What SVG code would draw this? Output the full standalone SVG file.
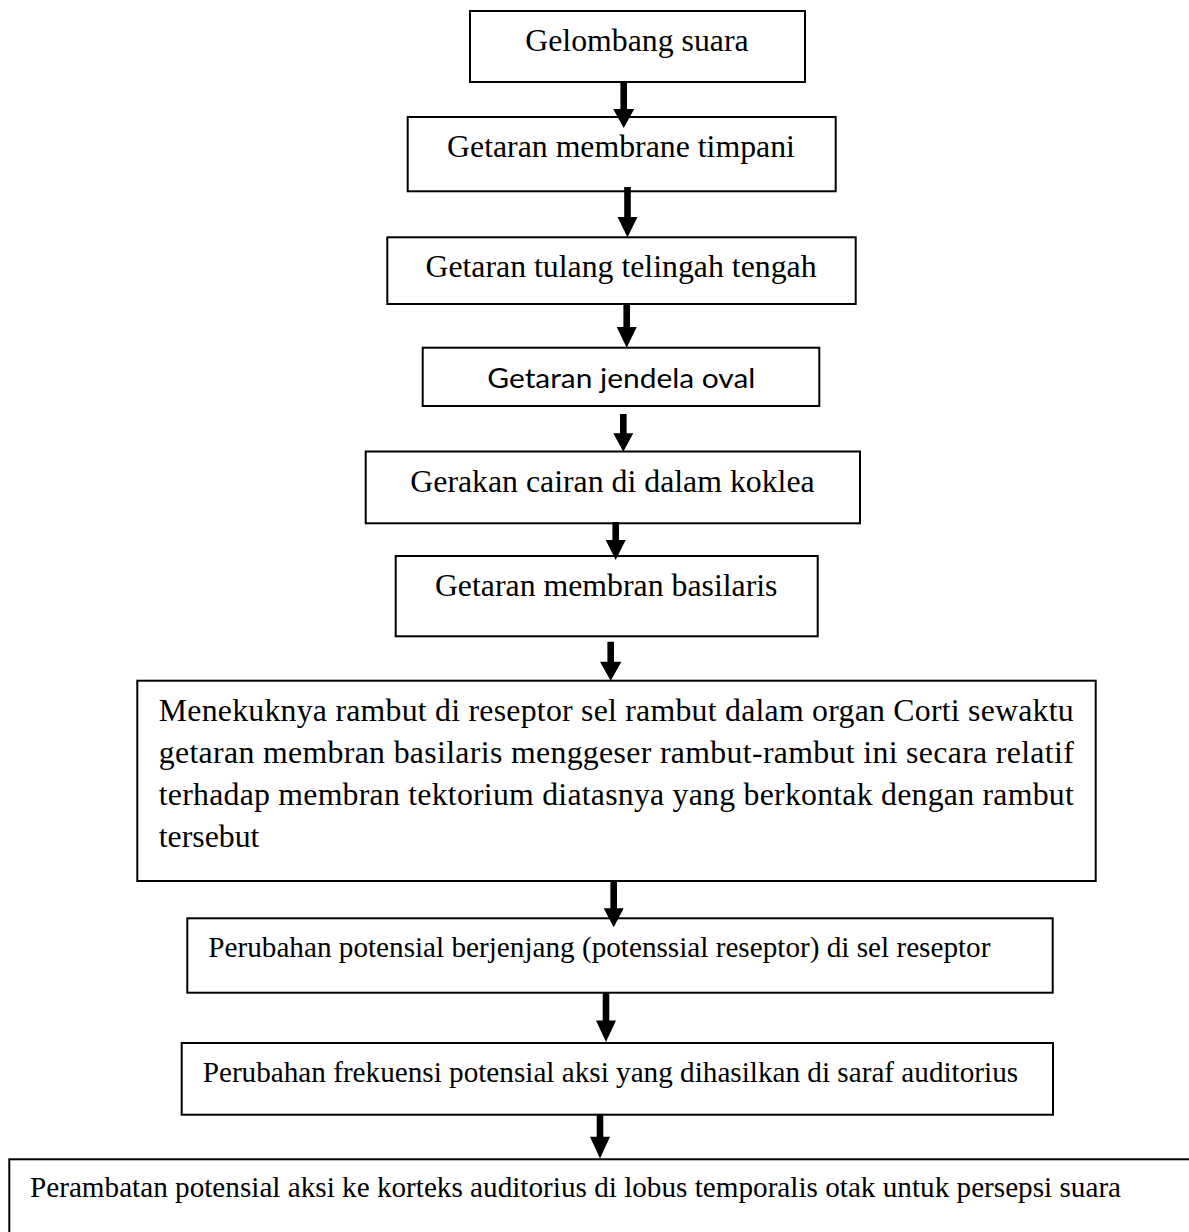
<svg xmlns="http://www.w3.org/2000/svg" width="1189" height="1232" viewBox="0 0 1189 1232">
<style>
.box{fill:#fff;stroke:#000;stroke-width:2}
.t{font-family:"Liberation Serif","Times New Roman",serif;fill:#000}
.big{font-size:31.8px}
.small{font-size:29.2px}
.sans{font-family:Lato,"Open Sans","Liberation Sans",sans-serif;font-size:27px;fill:#000}
.arr{fill:#000;stroke:none}
</style>
<rect width="1189" height="1232" fill="#fff"/>
<g id="node1"><rect class="box" x="470" y="11" width="335" height="71"/><text class="t big" x="637" y="51" text-anchor="middle">Gelombang suara</text></g>
<g id="node2"><rect class="box" x="407.7" y="117" width="428" height="74.3"/><text class="t big" x="621" y="156.7" text-anchor="middle">Getaran membrane timpani</text></g>
<g id="node3"><rect class="box" x="387.3" y="237.3" width="468.4" height="66.7"/><text class="t big" x="621" y="276.7" text-anchor="middle">Getaran tulang telingah tengah</text></g>
<g id="node4"><rect class="box" x="422.7" y="347.7" width="396.6" height="58.3"/><text class="sans" x="487.3" y="388.3" textLength="268" lengthAdjust="spacingAndGlyphs">Getaran jendela oval</text></g>
<g id="node5"><rect class="box" x="365.7" y="451.5" width="494.3" height="71.8"/><text class="t big" x="612.5" y="491.7" text-anchor="middle">Gerakan cairan di dalam koklea</text></g>
<g id="node6"><rect class="box" x="395.7" y="556" width="422" height="80.3"/><text class="t big" x="606.2" y="596" text-anchor="middle">Getaran membran basilaris</text></g>
<g id="node7"><rect class="box" x="137.3" y="680.7" width="958.4" height="200.3"/>
<text class="t big" x="158.75" y="720.7" textLength="915" lengthAdjust="spacing">Menekuknya rambut di reseptor sel rambut dalam organ Corti sewaktu</text>
<text class="t big" x="158.75" y="762.9" textLength="915" lengthAdjust="spacing">getaran membran basilaris menggeser rambut-rambut ini secara relatif</text>
<text class="t big" x="158.75" y="805.1" textLength="915" lengthAdjust="spacing">terhadap membran tektorium diatasnya yang berkontak dengan rambut</text>
<text class="t big" x="158.75" y="847.3">tersebut</text></g>
<g id="node8"><rect class="box" x="187.3" y="918.3" width="865.4" height="74.4"/><text class="t small" x="208.3" y="956.7">Perubahan potensial berjenjang (potenssial reseptor) di sel reseptor</text></g>
<g id="node9"><rect class="box" x="181.7" y="1043" width="871.3" height="71.7"/><text class="t small" x="202.7" y="1081.7">Perubahan frekuensi potensial aksi yang dihasilkan di saraf auditorius</text></g>
<g id="node10"><rect class="box" x="9.3" y="1159.3" width="1200" height="120"/><text class="t small" x="30" y="1196.7">Perambatan potensial aksi ke korteks auditorius di lobus temporalis otak untuk persepsi suara</text></g>
<g id="connectors">
<path class="arr" d="M620.4,82 H627 V109 H634.2 L623.7,128 L613.2,109 H620.4 Z"/>
<path class="arr" d="M624.2,187 H630.8 V217 H637.5 L627.5,237.3 L617.5,217 H624.2 Z"/>
<path class="arr" d="M623.4,304 H630 V327 H636.7 L626.7,347.7 L616.7,327 H623.4 Z"/>
<path class="arr" d="M620,414 H626.6 V433.3 H633.3 L623.3,451.7 L613.3,433.3 H620 Z"/>
<path class="arr" d="M612.4,522 H619 V540 H625.7 L615.7,560 L605.7,540 H612.4 Z"/>
<path class="arr" d="M607.4,641.7 H614 V661.7 H621.4 L610.7,680.7 L600,661.7 H607.4 Z"/>
<path class="arr" d="M610.4,882 H617 V908.3 H623.7 L613.7,927.3 L603.7,908.3 H610.4 Z"/>
<path class="arr" d="M602.7,993 H609.3 V1020.5 H616 L606,1042 L596,1020.5 H602.7 Z"/>
<path class="arr" d="M596.7,1115 H603.3 V1136.7 H610 L600,1158.5 L590,1136.7 H596.7 Z"/>
</g>
</svg>
